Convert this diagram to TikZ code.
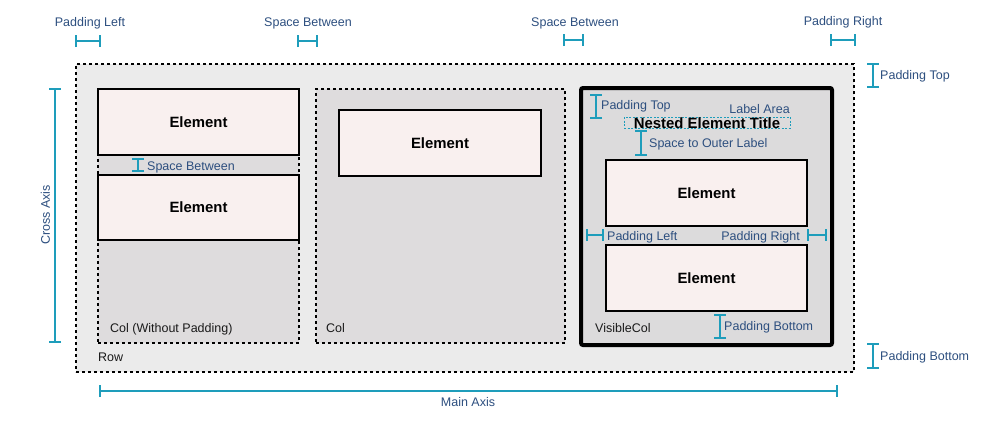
\documentclass[tikz,border=0pt]{standalone}
\usepackage{fontspec}
\setmainfont{Liberation Sans}
\usetikzlibrary{arrows.meta}
\definecolor{rowfill}{HTML}{EBEBEB}
\definecolor{colfill}{HTML}{DEDCDD}
\definecolor{vcolfill}{HTML}{DCDBDC}
\definecolor{elfill}{HTML}{F9F0EF}
\definecolor{lblblue}{HTML}{2D4F7F}
\definecolor{mcyan}{HTML}{1E9DBB}
\definecolor{darktext}{HTML}{1A1A1A}
\tikzset{
  dotbox/.style={draw=black, line width=2.2pt, dash pattern=on 3pt off 3pt, inner sep=0pt},
  rowbox/.style={dotbox, fill=rowfill},
  colbox/.style={dotbox, fill=colfill},
  vcolbox/.style={draw=black, line width=4pt, fill=vcolfill, rounded corners=2pt, inner sep=0pt},
  elbox/.style={draw=black, line width=2pt, fill=elfill, inner sep=0pt, font=\fontsize{14.9}{17}\selectfont\bfseries},
  labelarea/.style={draw=mcyan, line width=0.9pt, dash pattern=on 2pt off 1.5pt, inner sep=0pt},
  lbl/.style={inner sep=0pt, text=lblblue, font=\fontsize{12.5}{15}\selectfont, text height=9pt, text depth=2.5pt},
  dlbl/.style={lbl, text=darktext},
  tlbl/.style={inner sep=0pt, text=black, font=\fontsize{14.9}{17}\selectfont\bfseries},
  dim/.style={draw=mcyan, line width=2.4pt, {Bar[width=12pt,line width=2.4pt]}-{Bar[width=12pt,line width=2.4pt]}},
}
\begin{document}
\begin{tikzpicture}[x=1pt,y=-1pt]
\useasboundingbox (0,0) rectangle (1000,421);
% containers
\node[rowbox, minimum width=778pt, minimum height=308pt] (row) at (465,218) {};
\node[colbox, minimum width=201pt, minimum height=254pt] (col1) at (198.5,216) {};
\node[colbox, minimum width=249pt, minimum height=254pt] (col2) at (440.5,216) {};
\node[vcolbox, minimum width=251pt, minimum height=257pt] (vcol) at (706.5,216.5) {};
% elements
\node[elbox, minimum width=201pt, minimum height=66pt] (el1) at (198.5,122) {Element};
\node[elbox, minimum width=201pt, minimum height=65pt] (el2) at (198.5,207.5) {Element};
\node[elbox, minimum width=202pt, minimum height=66pt] (el3) at (440,143) {Element};
\node[elbox, minimum width=201pt, minimum height=66pt] (el4) at (706.5,193) {Element};
\node[elbox, minimum width=201pt, minimum height=66pt] (el5) at (706.5,278) {Element};
% label area
\node[labelarea, minimum width=166pt, minimum height=11pt] (larea) at (707,122.5) {};
\node[tlbl] (title) at (707,123) {Nested Element Title};
\node[lbl, anchor=east] (lareatxt) at (790,110.5) {Label Area};
% container labels
\node[dlbl, anchor=west] (rowtxt) at (98,358.5) {Row};
\node[dlbl, anchor=west] (col1txt) at (110,329.5) {Col (Without Padding)};
\node[dlbl, anchor=west] (col2txt) at (326,329.5) {Col};
\node[dlbl, anchor=west] (vcoltxt) at (595,329.5) {VisibleCol};
% outer labels
\node[lbl] (plt) at (90,23.5) {Padding Left};
\node[lbl] (sb1t) at (308,23.5) {Space Between};
\node[lbl] (sb2t) at (575,23.5) {Space Between};
\node[lbl] (prt) at (843,22.5) {Padding Right};
\node[lbl, anchor=west] (ptt) at (880,76.5) {Padding Top};
\node[lbl, anchor=west] (pbt) at (880,357.5) {Padding Bottom};
\node[lbl, rotate=90] (cat) at (46.5,215) {Cross Axis};
\node[lbl] (mat) at (468,403.5) {Main Axis};
% inner labels
\node[lbl, anchor=west] (isbt) at (147,167.5) {Space Between};
\node[lbl, anchor=west] (iptt) at (601,106.5) {Padding Top};
\node[lbl, anchor=west] (solt) at (649,144.5) {Space to Outer Label};
\node[lbl, anchor=west] (iplt) at (607,237.5) {Padding Left};
\node[lbl, anchor=east] (iprt) at (800,237.5) {Padding Right};
\node[lbl, anchor=west] (ipbt) at (724,327.5) {Padding Bottom};
% dimension coordinates
\coordinate (pl1) at (75,41);   \coordinate (pl2) at (101,41);
\coordinate (sa1) at (297,41);  \coordinate (sa2) at (318,41);
\coordinate (sb1) at (563,40);  \coordinate (sb2) at (584,40);
\coordinate (pr1) at (830,40);  \coordinate (pr2) at (856,40);
\coordinate (pt1) at (873,63);  \coordinate (pt2) at (873,88);
\coordinate (pb1) at (873,343); \coordinate (pb2) at (873,369);
\coordinate (ca1) at (55,88);   \coordinate (ca2) at (55,343);
\coordinate (ma1) at (99,391);  \coordinate (ma2) at (838,391);
\coordinate (is1) at (138,158); \coordinate (is2) at (138,172);
\coordinate (ip1) at (596,94);  \coordinate (ip2) at (596,119);
\coordinate (so1) at (641,130); \coordinate (so2) at (641,156);
\coordinate (il1) at (586,235); \coordinate (il2) at (604,235);
\coordinate (ir1) at (807,235); \coordinate (ir2) at (827,235);
\coordinate (ib1) at (720,314); \coordinate (ib2) at (720,339);
% dimension markers
\draw[dim] (pl1) -- (pl2);
\draw[dim] (sa1) -- (sa2);
\draw[dim] (sb1) -- (sb2);
\draw[dim] (pr1) -- (pr2);
\draw[dim] (pt1) -- (pt2);
\draw[dim] (pb1) -- (pb2);
\draw[dim] (ca1) -- (ca2);
\draw[dim] (ma1) -- (ma2);
\draw[dim] (is1) -- (is2);
\draw[dim] (ip1) -- (ip2);
\draw[dim] (so1) -- (so2);
\draw[dim] (il1) -- (il2);
\draw[dim] (ir1) -- (ir2);
\draw[dim] (ib1) -- (ib2);
\end{tikzpicture}
\end{document}
